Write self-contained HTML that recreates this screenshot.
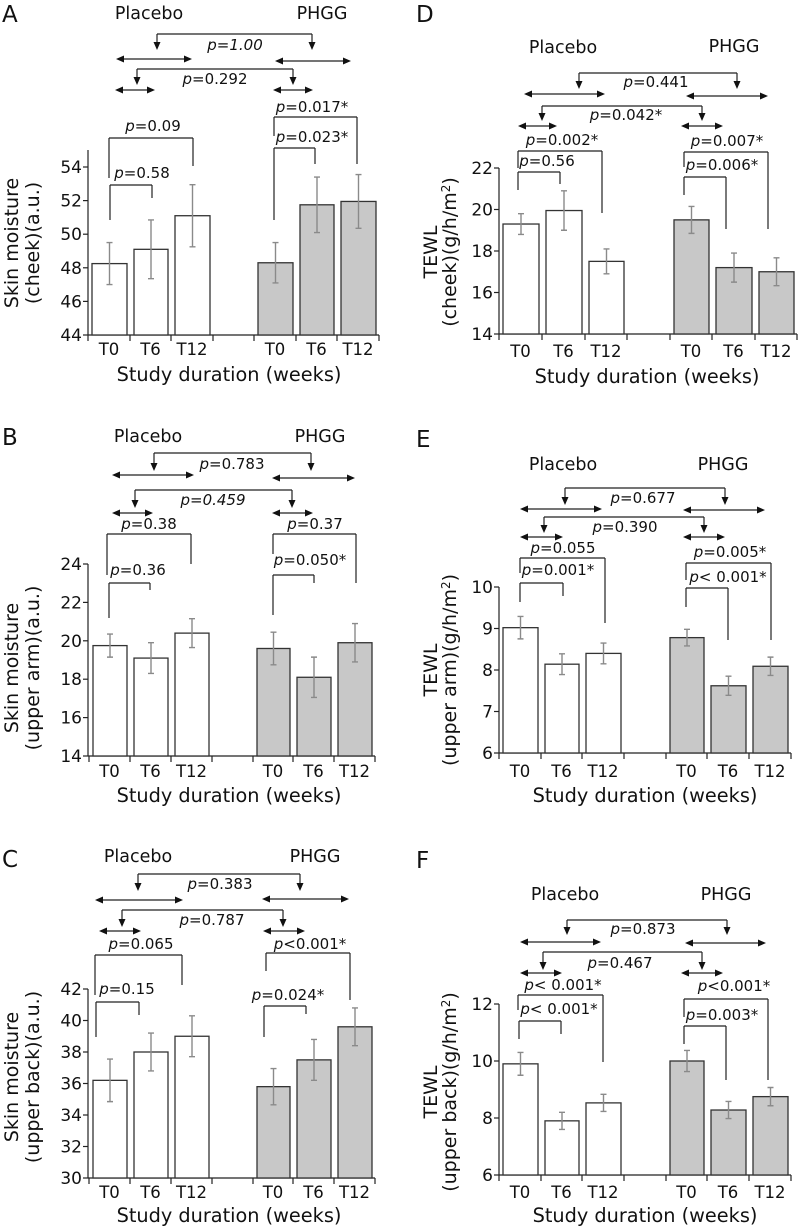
<!DOCTYPE html>
<html><head><meta charset="utf-8"><style>
html,body{margin:0;padding:0;background:#fff;}
svg{display:block;font-family:"DejaVu Sans","Liberation Sans",sans-serif;}
</style></head><body>
<svg id="fig" width="800" height="1227" viewBox="0 0 800 1227" xmlns="http://www.w3.org/2000/svg"></svg>
<script>
// ---- data ----
const timepoints = ["T0","T6","T12"];
const groups = ["Placebo","PHGG"];
const aPlacebo=[48.25,49.1,51.1], aPlaceboErr=[1.25,1.75,1.85], aPhgg=[48.3,51.75,51.95], aPhggErr=[1.2,1.65,1.6];
const aTicks=[44,46,48,50,52,54];
const bPlacebo=[19.75,19.1,20.4], bPlaceboErr=[0.6,0.8,0.75], bPhgg=[19.6,18.1,19.9], bPhggErr=[0.85,1.05,1.0];
const bTicks=[14,16,18,20,22,24];
const cPlacebo=[36.2,38.0,39.0], cPlaceboErr=[1.35,1.2,1.3], cPhgg=[35.8,37.5,39.6], cPhggErr=[1.15,1.3,1.2];
const cTicks=[30,32,34,36,38,40,42];
const dPlacebo=[19.3,19.95,17.5], dPlaceboErr=[0.5,0.95,0.6], dPhgg=[19.5,17.2,17.0], dPhggErr=[0.65,0.7,0.67];
const dTicks=[14,16,18,20,22];
const ePlacebo=[9.02,8.14,8.4], ePlaceboErr=[0.27,0.25,0.25], ePhgg=[8.78,7.62,8.09], ePhggErr=[0.2,0.23,0.22];
const eTicks=[6,7,8,9,10];
const fPlacebo=[9.9,7.9,8.53], fPlaceboErr=[0.4,0.3,0.3], fPhgg=[10.0,8.28,8.75], fPhggErr=[0.37,0.3,0.32];
const fTicks=[6,8,10,12];

const NS="http://www.w3.org/2000/svg";
const svg=document.getElementById('fig');
function mk(tag,attrs,parent){const e=document.createElementNS(NS,tag);for(const k in attrs)e.setAttribute(k,attrs[k]);(parent||svg).appendChild(e);return e;}

const panels=[
 {id:'a',letter:'A',lx:2,ly:22,pl:[149,19],ph:[322,19],axX:88,yBot:335,yTopPx:167,axTop:150,
  xt:[88,130,171,213,254,296,337,379],tlY:355,xlY:381,xlX:229,
  yl:["Skin moisture","(cheek)(a.u.)"],ylX:[18,39],ylY:243,
  pv:aPlacebo,pe:aPlaceboErr,hv:aPhgg,he:aPhggErr,ticks:aTicks,
  br:[[157,312,34,50,50,1],[137,293,69,85,85,1],[109,193,138,178,166,0],[110,152,185,220,198,0],[274,357,117,136,164,0],[274,315,148,220,164,0]],
  da:[[116,192,59],[275,351,61],[115,155,90],[273,313,90]],
  tx:[[235,50,"=1.00",1],[215,84,"=0.292",0],[153,131,"=0.09",0],[142,178,"=0.58",0],[312,112,"=0.017*",0],[312,142,"=0.023*",0]]},
 {id:'b',letter:'B',lx:2,ly:445,pl:[148,442],ph:[320,442],axX:88,yBot:756,yTopPx:564,axTop:564,
  xt:[89,130,171,212,253,293,334,375],tlY:777,xlY:802,xlX:229,
  yl:["Skin moisture","(upper arm)(a.u.)"],ylX:[18,39],ylY:668,
  pv:bPlacebo,pe:bPlaceboErr,hv:bPhgg,he:bPhggErr,ticks:bTicks,
  br:[[154,311,453,471,471,1],[135,292,490,508,508,1],[107,191,534,575,564,0],[109,150,583,618,590,0],[273,356,534,554,583,0],[273,314,575,615,583,0]],
  da:[[112,194,475],[272,355,478],[112,153,513],[272,313,513]],
  tx:[[232,469,"=0.783",0],[213,505,"=0.459",1],[149,529,"=0.38",0],[138,575,"=0.36",0],[315,529,"=0.37",0],[310,565,"=0.050*",0]]},
 {id:'c',letter:'C',lx:2,ly:867,pl:[138,862],ph:[315,862],axX:88,yBot:1178,yTopPx:989,axTop:989,
  xt:[89,130,171,212,253,293,334,375],tlY:1198,xlY:1222,xlX:229,
  yl:["Skin moisture","(upper back)(a.u.)"],ylX:[18,39],ylY:1077,
  pv:cPlacebo,pe:cPlaceboErr,hv:cPhgg,he:cPhggErr,ticks:cTicks,
  br:[[138,300,874,891,891,1],[122,283,910,927,927,1],[95,182,955,995,985,0],[96,139,1002,1037,1015,0],[266,350,953,971,1000,0],[264,306,1006,1037,1014,0]],
  da:[[95,183,900],[262,349,899],[99,141,931],[263,305,931]],
  tx:[[220,889,"=0.383",0],[212,925,"=0.787",0],[141,949,"=0.065",0],[127,994,"=0.15",0],[310,949,"<0.001*",0],[288,1000,"=0.024*",0]]},
 {id:'d',letter:'D',lx:416,ly:22,pl:[563,53],ph:[734,52],axX:499,yBot:334,yTopPx:168,axTop:168,
  xt:[499,542,585,627,670,712,755,797],tlY:357,xlY:383,xlX:647,
  yl:["TEWL","(cheek)(g/h/m","2",")"],ylX:[437,456],ylY:252,
  pv:dPlacebo,pe:dPlaceboErr,hv:dPhgg,he:dPhggErr,ticks:dTicks,
  br:[[579,737,73,89,89,1],[542,702,106,121,121,1],[518,602,151,168,213,0],[518,560,172,190,184,0],[684,768,152,167,229,0],[684,726,177,195,229,0]],
  da:[[524,605,94],[686,768,96],[518,557,126],[681,723,126]],
  tx:[[656,87,"=0.441",0],[626,120,"=0.042*",0],[562,145,"=0.002*",0],[547,166,"=0.56",0],[727,146,"=0.007*",0],[722,170,"=0.006*",0]]},
 {id:'e',letter:'E',lx:416,ly:447,pl:[563,470],ph:[723,470],axX:499,yBot:753,yTopPx:587,axTop:587,
  xt:[499,541,582,624,666,707,749,791],tlY:777,xlY:802,xlX:645,
  yl:["TEWL","(upper arm)(g/h/m","2",")"],ylX:[437,456],ylY:670,
  pv:ePlacebo,pe:ePlaceboErr,hv:ePhgg,he:ePhggErr,ticks:eTicks,
  br:[[565,725,488,505,505,1],[544,704,517,533,533,1],[520,605,558,573,623,0],[520,563,583,602,596,0],[686,771,563,580,640,0],[686,728,588,607,640,0]],
  da:[[520,602,509],[683,765,510],[520,563,537],[683,725,537]],
  tx:[[643,503,"=0.677",0],[625,532,"=0.390",0],[563,553,"=0.055",0],[558,575,"=0.001*",0],[730,557,"=0.005*",0],[728,582,"< 0.001*",0]]},
 {id:'f',letter:'F',lx:416,ly:868,pl:[565,900],ph:[726,900],axX:499,yBot:1175,yTopPx:1004,axTop:1004,
  xt:[499,541,582,624,666,707,749,791],tlY:1198,xlY:1222,xlX:645,
  yl:["TEWL","(upper back)(g/h/m","2",")"],ylX:[437,456],ylY:1092,
  pv:fPlacebo,pe:fPlaceboErr,hv:fPhgg,he:fPhggErr,ticks:fTicks,
  br:[[567,727,920,935,935,1],[543,702,952,970,970,1],[518,603,995,1010,1062,0],[519,561,1021,1039,1034,0],[684,768,999,1017,1080,0],[684,726,1026,1044,1080,0]],
  da:[[520,601,942],[685,766,943],[520,562,973],[681,723,973]],
  tx:[[643,934,"=0.873",0],[620,968,"=0.467",0],[563,990,"< 0.001*",0],[559,1014,"< 0.001*",0],[734,991,"<0.001*",0],[722,1020,"=0.003*",0]]}
];

function downArrow(g,x,y1,y2){
  const l=mk('line',{x1:x,y1:y1,x2:x,y2:y2-6,stroke:'#222','stroke-width':1.2},g);
  
  
  const p=mk('polygon',{points:`${x-3.5},${y2-8} ${x+3.5},${y2-8} ${x},${y2}`,fill:'#111'},g);
  
  
}

panels.forEach(P=>{
  const g=mk('g',{});
  
  
  const tmin=P.ticks[0], tmax=P.ticks[P.ticks.length-1];
  const y=v=>P.yBot-(v-tmin)*(P.yBot-P.yTopPx)/(tmax-tmin);

  const L=mk('text',{x:P.lx,y:P.ly,'font-size':23,fill:'#111'},g);L.textContent=P.letter;
  
  
  [[P.pl,groups[0]],[P.ph,groups[1]]].forEach(([pos,name])=>{
    const t=mk('text',{x:pos[0],y:pos[1],'font-size':17.5,'text-anchor':'middle',fill:'#111'},g);t.textContent=name;
    
    
  });

  const ya=mk('line',{x1:P.axX,y1:P.axTop,x2:P.axX,y2:P.yBot,stroke:'#222','stroke-width':1.2},g);
  
  
  P.ticks.forEach(v=>{
    const tk=mk('line',{x1:P.axX-5,y1:y(v),x2:P.axX,y2:y(v),stroke:'#222','stroke-width':1.2},g);
    
    
    const tl=mk('text',{x:P.axX-6,y:y(v)+6,'font-size':17,'text-anchor':'end',fill:'#111'},g);tl.textContent=v;
    
    
  });
  const xa=mk('line',{x1:P.axX,y1:P.yBot,x2:P.xt[7],y2:P.yBot,stroke:'#222','stroke-width':1.2},g);
  
  
  P.xt.forEach(x=>{
    const tk=mk('line',{x1:x,y1:P.yBot,x2:x,y2:P.yBot+6,stroke:'#222','stroke-width':1.2},g);
    
    
  });
  [[P.pv,P.pe,0,'#ffffff'],[P.hv,P.he,4,'#c8c8c8']].forEach(([vals,errs,off,fill])=>{
    vals.forEach((v,i)=>{
      const x1=P.xt[off+i]+4, x2=P.xt[off+i+1]-3, cx=(x1+x2)/2;
      const r=mk('rect',{x:x1,y:y(v),width:x2-x1,height:P.yBot-y(v),fill:fill,stroke:'#333','stroke-width':1.3},g);
      
      
      const e=errs[i];
      const el=mk('path',{d:`M${cx},${y(v+e)}V${y(v-e)}M${cx-3},${y(v+e)}H${cx+3}M${cx-3},${y(v-e)}H${cx+3}`,stroke:'#8a8a8a','stroke-width':1.4,fill:'none'},g);
      
      
      const tl=mk('text',{x:(P.xt[off+i]+P.xt[off+i+1])/2,y:P.tlY,'font-size':16.5,'text-anchor':'middle',fill:'#111'},g);tl.textContent=timepoints[i];
      
      
    });
  });
  const xl=mk('text',{x:P.xlX,y:P.xlY,'font-size':19.3,'text-anchor':'middle',fill:'#111'},g);xl.textContent='Study duration (weeks)';
  
  
  const y1t=mk('text',{x:P.ylX[0],y:P.ylY,'font-size':19,'text-anchor':'middle',fill:'#111',transform:`rotate(-90 ${P.ylX[0]} ${P.ylY})`},g);y1t.textContent=P.yl[0];
  
  
  const y2t=mk('text',{x:P.ylX[1],y:P.ylY,'font-size':19,'text-anchor':'middle',fill:'#111',transform:`rotate(-90 ${P.ylX[1]} ${P.ylY})`},g);
  
  
  if(P.yl.length>2){
    y2t.appendChild(document.createTextNode(P.yl[1]));
    const s=mk('tspan',{dy:-6,'font-size':12},y2t);s.textContent=P.yl[2];
    const s2=mk('tspan',{dy:6},y2t);s2.textContent=P.yl[3];
  } else y2t.textContent=P.yl[1];

  P.br.forEach(b=>{
    const [x1,x2,yy,le,re,arr]=b;
    const h=mk('line',{x1:x1,y1:yy,x2:x2,y2:yy,stroke:'#222','stroke-width':1.2},g);
    
    
    if(arr){downArrow(g,x1,yy,le);downArrow(g,x2,yy,re);}
    else{
      const lg=mk('path',{d:`M${x1},${yy}V${le}M${x2},${yy}V${re}`,stroke:'#222','stroke-width':1.2,fill:'none'},g);
      
      
    }
  });
  P.da.forEach(d=>{
    const [x1,x2,yy]=d;
    const l=mk('line',{x1:x1+6,y1:yy,x2:x2-6,y2:yy,stroke:'#222','stroke-width':1.2},g);
    
    
    const p=mk('path',{d:`M${x1},${yy}L${x1+8},${yy-3.5}L${x1+8},${yy+3.5}ZM${x2},${yy}L${x2-8},${yy-3.5}L${x2-8},${yy+3.5}Z`,fill:'#111'},g);
    
    
  });
  P.tx.forEach(t=>{
    const [x,yy,str,it]=t;
    const te=mk('text',{x:x,y:yy,'font-size':15,'text-anchor':'middle',fill:'#111'},g);
    if(it)te.setAttribute('font-style','italic');
    
    
    const s=mk('tspan',{'font-style':'italic'},te);s.textContent='p';
    te.appendChild(document.createTextNode(str));
  });
});
</script>
</body></html>
